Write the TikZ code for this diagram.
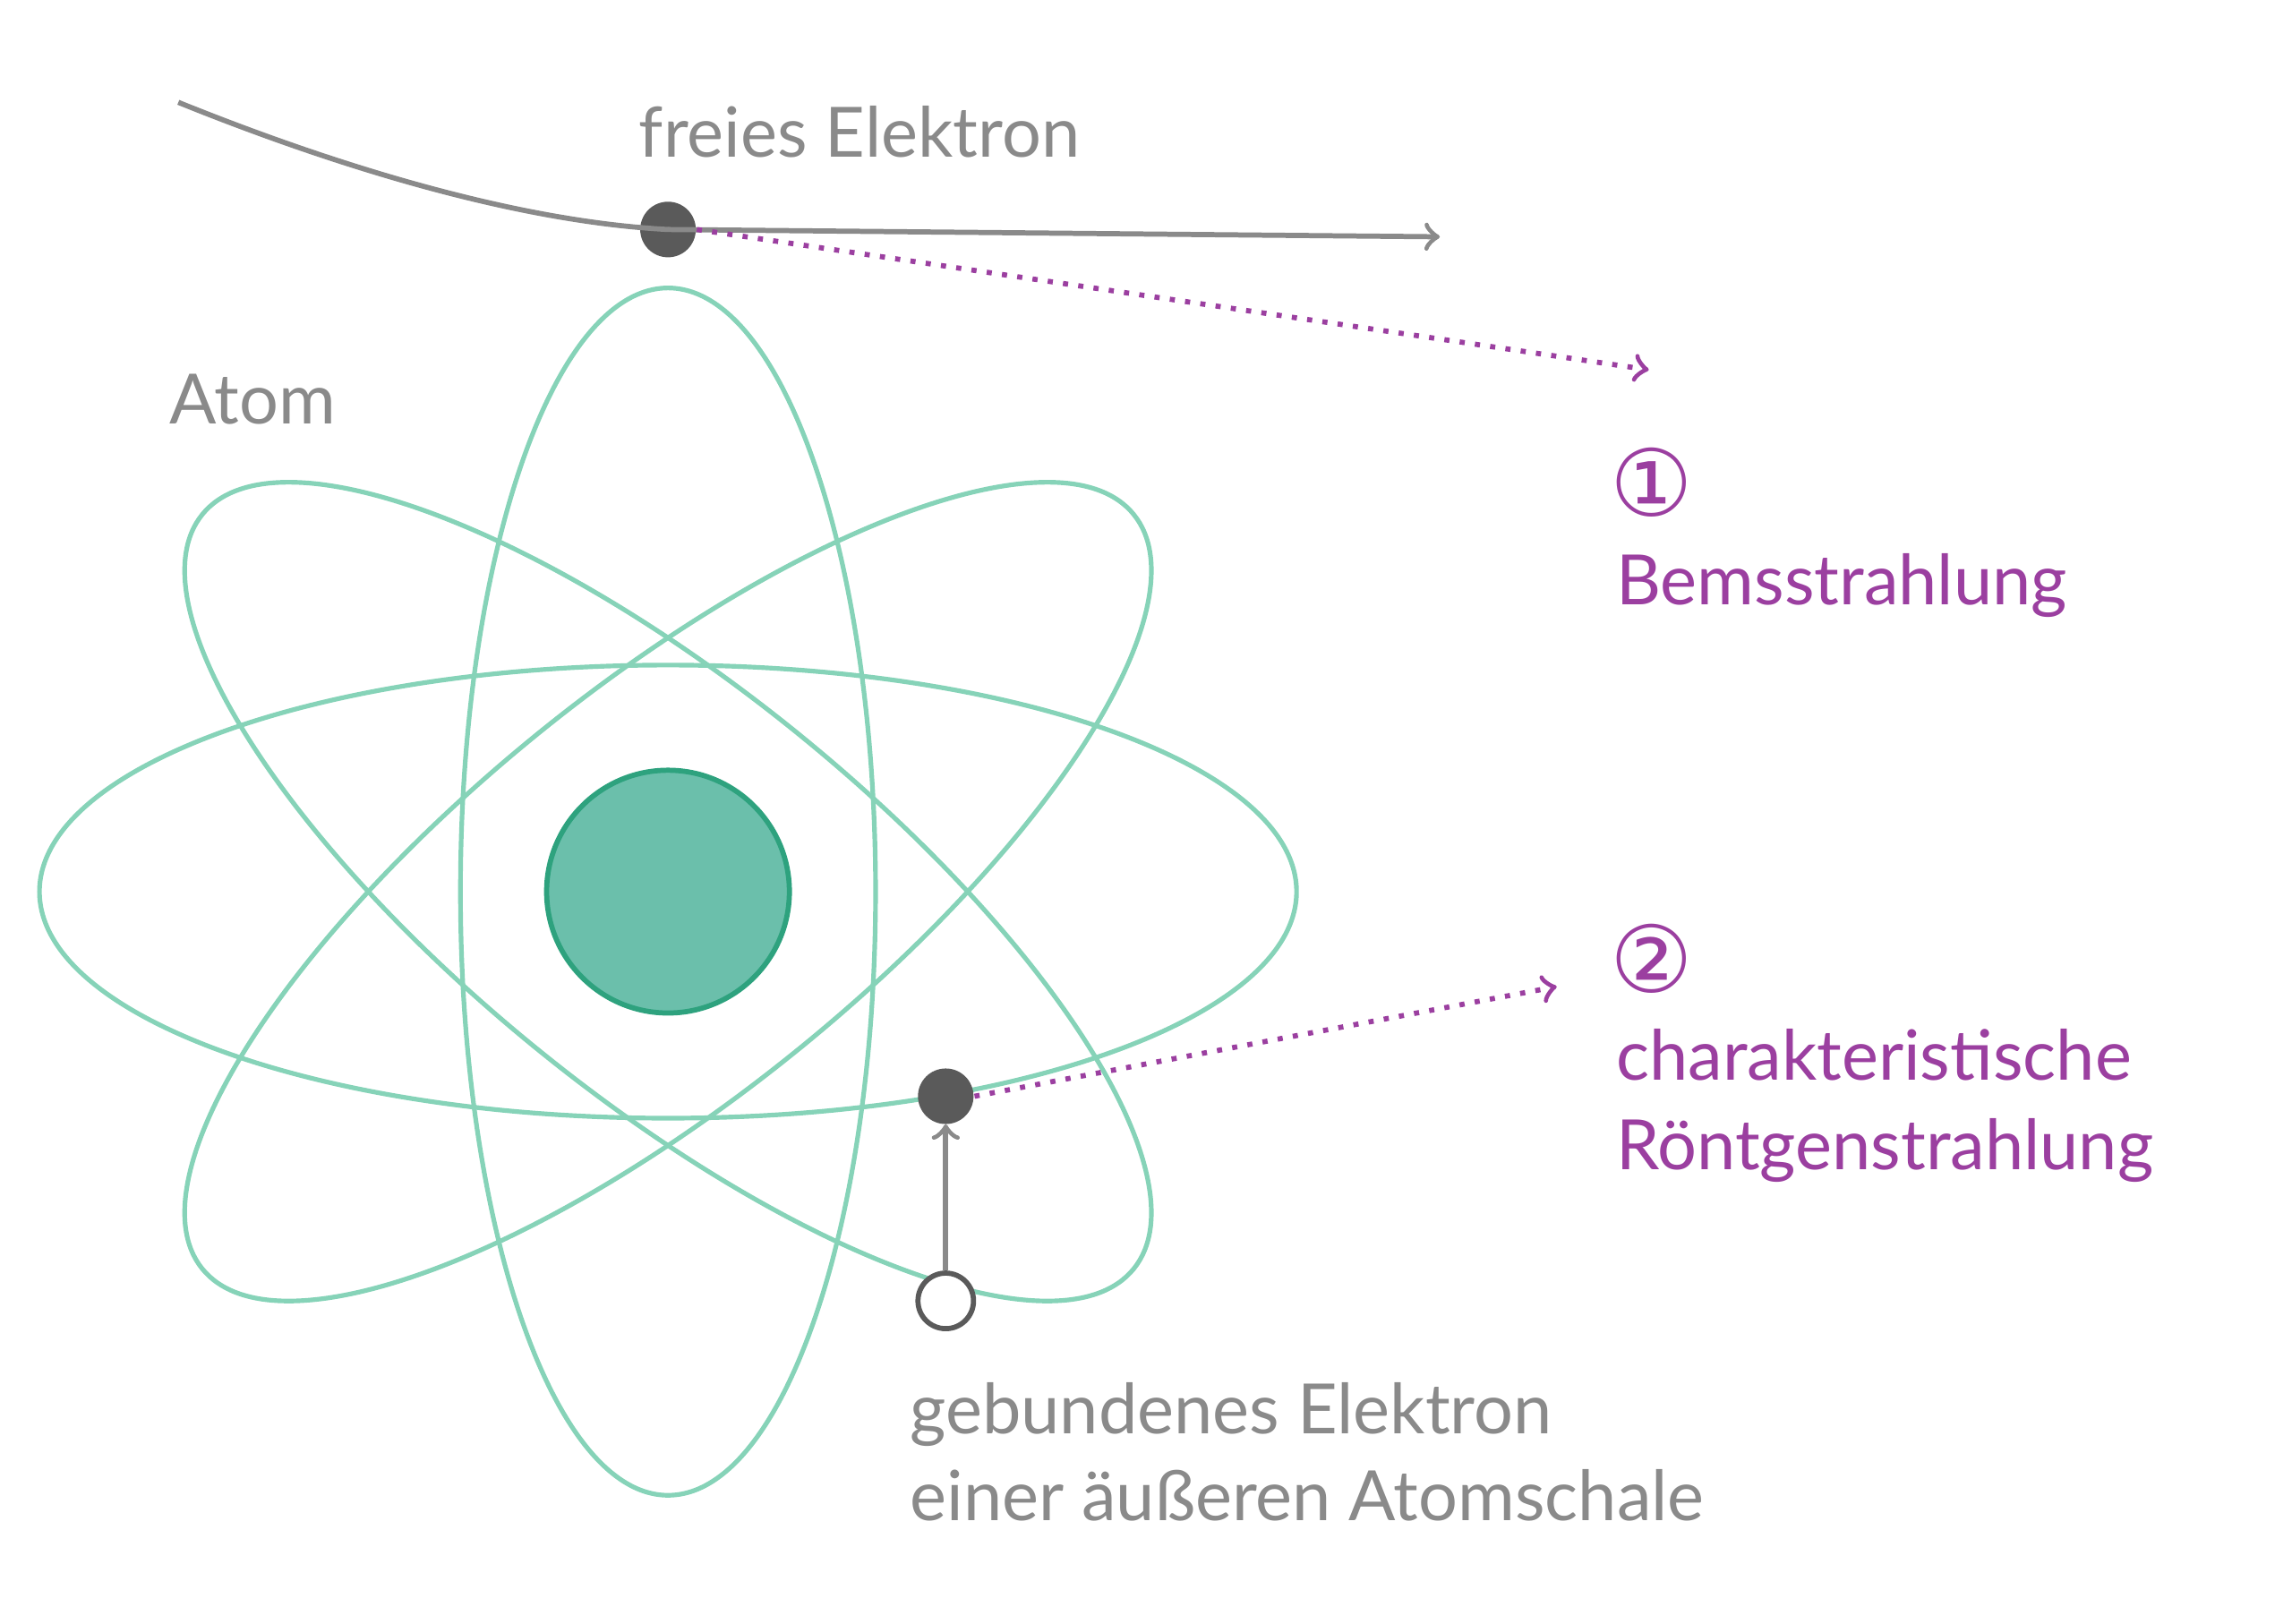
\documentclass[tikz,border=0pt]{standalone}
\usepackage{fontspec}
\setmainfont{Lato}
\newfontfamily\symfont{DejaVu Sans}
\definecolor{orbit}{HTML}{86D3B8}
\definecolor{core}{HTML}{6BBFAB}
\definecolor{coreline}{HTML}{2EA27E}
\definecolor{ray}{HTML}{9B3FA0}
\definecolor{txt}{HTML}{8A8A8A}
\definecolor{dot}{HTML}{5A5A5A}
\begin{document}
\begin{tikzpicture}[x=0.01cm,y=-0.01cm,
  orbitline/.style={draw=orbit,line width=0.9pt},
  electron/.style={circle,fill=dot,minimum size=0.38cm,inner sep=0pt},
  hole/.style={circle,draw=dot,fill=white,line width=1pt,minimum size=0.38cm,inner sep=0pt},
  lbl/.style={text=txt,font=\fontsize{13.5}{17}\selectfont,inner sep=0pt},
  rlbl/.style={text=ray,font=\fontsize{13.5}{17.5}\selectfont,inner sep=0pt,align=left,anchor=north west},
  raydot/.style={draw=ray,dotted,line width=1pt,-to}]
  \useasboundingbox (0,0) rectangle (1568,1111);

  % atom
  \node[circle,fill=core,draw=coreline,line width=1pt,minimum size=1.66cm] (nucleus) at (457,610) {};
  \draw[orbitline] (457,610) ellipse [x radius=142,y radius=413];
  \draw[orbitline] (457,610) ellipse [x radius=430,y radius=155];
  \draw[orbitline,rotate around={39:(457,610)}] (457,610) ellipse [x radius=410,y radius=140];
  \draw[orbitline,rotate around={-39:(457,610)}] (457,610) ellipse [x radius=410,y radius=140];

  % electrons
  \node[electron] (free) at (457,157) {};
  \node[electron] (bound) at (647,750) {};
  \node[hole] (shell) at (647,890) {};
  \coordinate (start) at (122,70);
  \coordinate (end) at (985,162);
  \coordinate (brems) at (1128,253);
  \coordinate (charac) at (1065,675);

  \draw[txt,line width=1pt] (start) to[out=-22,in=177,looseness=0.8] (free.center);
  \draw[txt,line width=1pt,-to] (free.center) to (end);
  \draw[raydot] (free.east) to (brems);
  \draw[raydot] (bound.east) to (charac);
  \draw[txt,line width=1pt,-to] (shell.north) to ++(0,-100);

  % labels
  \node[lbl] (freeL) at (588,90) {freies Elektron};
  \node[lbl] (atomL) at (173,273) {Atom};
  \node[lbl,anchor=north west,align=left] (boundL) at (622,945) {gebundenes Elektron\\einer äußeren Atomschale};
  \node[text=ray,font=\symfont\fontsize{18}{20}\selectfont,inner sep=0pt] (one) at (1130,330) {①};
  \node[rlbl] (oneL) at (1105,378) {Bemsstrahlung};
  \node[text=ray,font=\symfont\fontsize{18}{20}\selectfont,inner sep=0pt] (two) at (1130,656) {②};
  \node[rlbl] (twoL) at (1105,703) {charakteristische\\Röntgenstrahlung};
\end{tikzpicture}
\end{document}
